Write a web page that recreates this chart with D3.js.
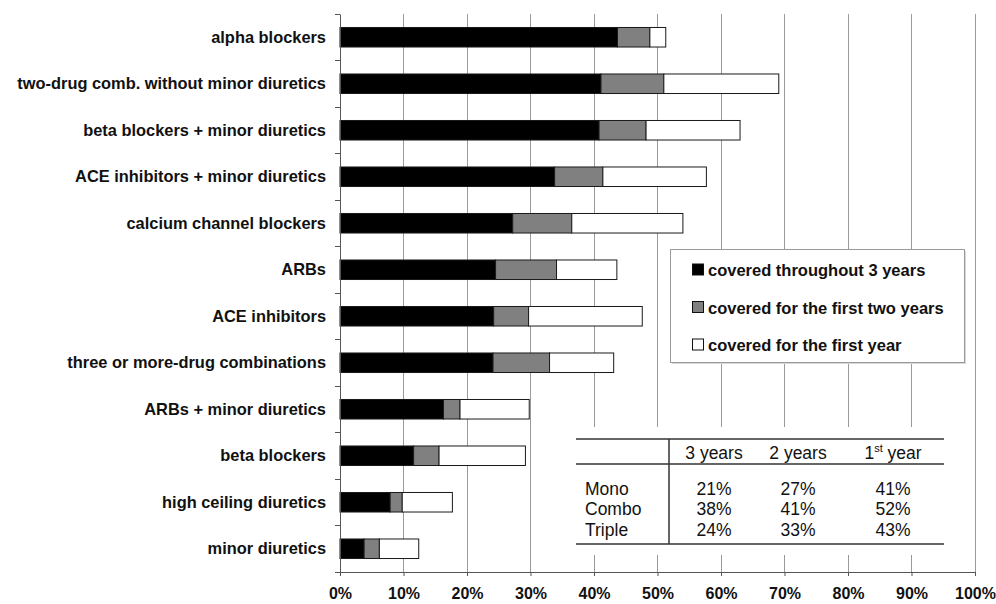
<!DOCTYPE html>
<html>
<head>
<meta charset="utf-8">
<script src="https://cdn.jsdelivr.net/npm/d3@7"></script>
<style>
  html, body { margin: 0; padding: 0; background: #fff; }
  svg { display: block; font-family: "Liberation Sans", Arial, sans-serif; }
</style>
</head>
<body>
<svg id="chart" width="996" height="604"></svg>
<script>
// Drug classes, top to bottom
const categories = [
  "alpha blockers",
  "two-drug comb. without minor diuretics",
  "beta blockers + minor diuretics",
  "ACE inhibitors + minor diuretics",
  "calcium channel blockers",
  "ARBs",
  "ACE inhibitors",
  "three or more-drug combinations",
  "ARBs + minor diuretics",
  "beta blockers",
  "high ceiling diuretics",
  "minor diuretics"
];

// Share of patients (%) per segment, stacked left to right
const coveredThreeYears = [43.7, 41.1, 40.8, 33.8, 27.2, 24.5, 24.2, 24.1, 16.3, 11.6, 7.9, 3.8];
const coveredTwoYears   = [5.1, 9.9, 7.4, 7.6, 9.3, 9.6, 5.5, 8.9, 2.6, 4.0, 1.9, 2.4];
const coveredFirstYear  = [2.5, 18.1, 14.8, 16.3, 17.5, 9.5, 17.9, 10.1, 10.9, 13.6, 7.9, 6.2];

const seriesNames = [
  "covered throughout 3 years",
  "covered for the first two years",
  "covered for the first year"
];
const seriesColors = ["#000000", "#808080", "#ffffff"];

const xTicks = [0, 10, 20, 30, 40, 50, 60, 70, 80, 90, 100];

// Summary table
const tableHeader = ["3 years", "2 years", "1st year"];
const tableRows = ["Mono", "Combo", "Triple"];
const tableThree = ["21%", "38%", "24%"];
const tableTwo   = ["27%", "41%", "33%"];
const tableFirst = ["41%", "52%", "43%"];

const svg = d3.select("#chart");
const plotLeft = 340, plotRight = 975, plotTop = 14, plotBottom = 572;

const x = d3.scaleLinear().domain([0, 100]).range([plotLeft, plotRight]);
const y = d3.scaleBand().domain(categories).range([plotTop, plotBottom])
  .paddingInner(0.58).paddingOuter(0.29);

// vertical gridlines
svg.append("g").selectAll("line").data(xTicks.slice(1)).join("line")
  .attr("x1", d => x(d)).attr("x2", d => x(d))
  .attr("y1", plotTop).attr("y2", plotBottom)
  .attr("stroke", "#9a9a9a").attr("stroke-width", 1)
  .attr("shape-rendering", "crispEdges");

// stacked bars
const rows = categories.map((c, i) => ({
  cat: c, a: coveredThreeYears[i], b: coveredTwoYears[i], c2: coveredFirstYear[i]
}));
const stack = d3.stack().keys(["a", "b", "c2"]);
const layers = stack(rows);

svg.append("g").selectAll("g").data(layers).join("g")
  .attr("fill", (d, i) => seriesColors[i])
  .selectAll("rect").data(d => d).join("rect")
  .attr("x", d => x(d[0]))
  .attr("width", d => x(d[1]) - x(d[0]))
  .attr("y", d => y(d.data.cat))
  .attr("height", y.bandwidth())
  .attr("stroke", "#1a1a1a").attr("stroke-width", 1);

// table background covering the grid
const tbl = svg.append("g");
tbl.append("rect").attr("x", 566).attr("y", 427).attr("width", 390).attr("height", 128)
  .attr("fill", "#fff");

// axes
const yAxis = d3.axisLeft(y).tickSize(0).tickFormat("");
const yg = svg.append("g").attr("transform", `translate(${plotLeft},0)`).call(yAxis);
yg.select(".domain").attr("stroke", "#555");
// tick marks on category boundaries
const bounds = d3.range(categories.length + 1).map(i => plotTop + i * y.step());
svg.append("g").selectAll("line").data(bounds).join("line")
  .attr("x1", plotLeft - 5).attr("x2", plotLeft)
  .attr("y1", d => d).attr("y2", d => d)
  .attr("stroke", "#555").attr("shape-rendering", "crispEdges");

svg.append("g").selectAll("text").data(categories).join("text")
  .attr("x", 326).attr("y", d => y(d) + y.bandwidth() / 2)
  .attr("dy", "0.35em").attr("text-anchor", "end")
  .attr("font-size", 16.4).attr("font-weight", "bold").attr("fill", "#111")
  .text(d => d);

const xAxis = d3.axisBottom(x).tickValues(xTicks).tickSize(4).tickFormat(d => d + "%");
const xg = svg.append("g").attr("transform", `translate(0,${plotBottom})`).call(xAxis);
xg.select(".domain").attr("stroke", "#555");
xg.selectAll(".tick line").attr("stroke", "#555");
xg.selectAll(".tick text").attr("font-size", 16).attr("font-weight", "bold")
  .attr("fill", "#111").attr("font-family", "Liberation Sans, Arial, sans-serif")
  .attr("y", 16);

// legend
const lg = svg.append("g");
lg.append("rect").attr("x", 672).attr("y", 251).attr("width", 294).attr("height", 113)
  .attr("fill", "#d8d8d8");
lg.append("rect").attr("x", 670.5).attr("y", 249.5).attr("width", 294).attr("height", 113)
  .attr("fill", "#fff").attr("stroke", "#9a9a9a");
seriesNames.forEach((name, i) => {
  const cy = 269.5 + i * 37.5;
  lg.append("rect").attr("x", 692.5).attr("y", cy - 5.5).attr("width", 11).attr("height", 11)
    .attr("fill", seriesColors[i]).attr("stroke", "#111");
  lg.append("text").attr("x", 708).attr("y", cy + 1).attr("dy", "0.35em")
    .attr("font-size", 16.5).attr("font-weight", "bold").attr("fill", "#111").text(name);
});

// summary table
const lineColor = "#333";
[439, 464, 544].forEach(yy => {
  tbl.append("line").attr("x1", 576).attr("x2", 944).attr("y1", yy).attr("y2", yy)
    .attr("stroke", lineColor).attr("stroke-width", 1.5);
});
tbl.append("line").attr("x1", 669).attr("x2", 669).attr("y1", 439).attr("y2", 544)
  .attr("stroke", lineColor).attr("stroke-width", 1.5);

const colX = [714, 798, 893];
const fs = 17.5;
tableHeader.forEach((h, i) => {
  const t = tbl.append("text").attr("x", colX[i]).attr("y", 453).attr("dy", "0.35em")
    .attr("text-anchor", "middle").attr("font-size", fs).attr("fill", "#111");
  if (h.startsWith("1st")) {
    t.append("tspan").text("1");
    t.append("tspan").attr("font-size", 11).attr("dy", -7).text("st");
    t.append("tspan").attr("dy", 7).text(" year");
  } else {
    t.text(h);
  }
});
const cols = [tableThree, tableTwo, tableFirst];
tableRows.forEach((r, j) => {
  const ry = 488.5 + j * 20.5;
  tbl.append("text").attr("x", 585).attr("y", ry).attr("dy", "0.35em")
    .attr("font-size", fs).attr("fill", "#111").text(r);
  cols.forEach((col, i) => {
    tbl.append("text").attr("x", colX[i]).attr("y", ry).attr("dy", "0.35em")
      .attr("text-anchor", "middle").attr("font-size", fs).attr("fill", "#111").text(col[j]);
  });
});
</script>
</body>
</html>
